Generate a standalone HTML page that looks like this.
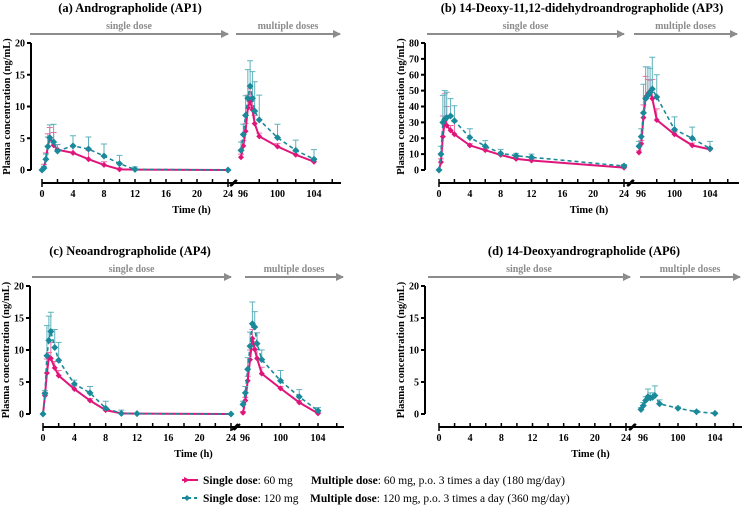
<!DOCTYPE html>
<html><head><meta charset="utf-8"><style>
body{margin:0;background:#fff}
svg, svg text{font-family:"Liberation Serif","Times New Roman",serif}
</style></head><body>
<svg id="fig" width="745" height="521" viewBox="0 0 745 521" xmlns="http://www.w3.org/2000/svg" font-family="Liberation Serif, serif">
<defs>
<marker id="ah" markerWidth="8" markerHeight="8" refX="7" refY="4" orient="auto" markerUnits="userSpaceOnUse"><path d="M0,0 L8,4 L0,8 z" fill="#8c8c8c"/></marker>
</defs>
<g>
 <g>
  <line x1="182" y1="480" x2="198" y2="480" stroke="#e0157a" stroke-width="2"/>
  <path d="M184,477 l6,3 l-6,3z" fill="#e0157a"/>
  <text x="203" y="484" font-size="11.5"><tspan font-weight="bold">Single dose</tspan>: 60 mg</text>
  <text x="311" y="484" font-size="11.5"><tspan font-weight="bold">Multiple dose</tspan>: 60 mg, p.o. 3 times a day (180 mg/day)</text>
 </g>
 <g>
  <line x1="182" y1="498" x2="198" y2="498" stroke="#1a8a9a" stroke-width="2" stroke-dasharray="3,3"/>
  <path d="M184,498 l3,-3 l3,3 l-3,3z" fill="#1a8a9a"/>
  <text x="203" y="502" font-size="11.5"><tspan font-weight="bold">Single dose</tspan>: 120 mg</text>
  <text x="310" y="502" font-size="11.5"><tspan font-weight="bold">Multiple dose</tspan>: 120 mg, p.o. 3 times a day (360 mg/day)</text>
 </g>
</g>
</svg>
<script>
// shared time points
const singleTimes=[0,0.25,0.5,0.75,1,1.5,2,4,6,8,10,12,24];
const multiTimes=[96,96.25,96.5,96.75,97,97.25,97.5,98,100,102,104];
const singleTickLabels=[0,4,8,12,16,20,24];
const multiTickLabels=[96,100,104];
// (a) AP1
const apA_pinkSingle=[0,0.4,1.7,3.7,5.0,3.9,3.2,2.7,1.7,0.8,0.1,0.05,0];
const apA_pinkSingleSD=[0,0.5,1,2,1.7,2,0.8,1,1.4,0.5,0.2,0.1,0];
const apA_tealSingle=[0,0.3,1.7,3.7,5.1,4.4,3.0,3.8,3.3,2.2,1.0,0.1,0];
const apA_tealSingleSD=[0,0.3,0.8,1.5,2.0,2.8,1.0,1.6,1.9,1.9,1.3,0.4,0];
const apA_pinkMulti=[2.0,3.8,6.1,9.8,10.8,9.5,7.3,5.3,3.7,2.4,1.3];
const apA_pinkMultiSD=[0.5,0.8,1.2,2,2,1.5,1.3,0.5,0.5,0.5,0.5];
const apA_tealMulti=[3.1,5.6,8.6,11.3,13.2,11.3,9.3,7.9,5.1,3.1,1.7];
const apA_tealMultiSD=[1.3,1.6,3.1,4.5,4,4.2,4.6,3.9,2.1,1.6,1.5];
// (b) AP3
const apB_pinkSingle=[0,5,21,31,28,25,22.5,15.5,12.5,9.5,7,6,1.5];
const apB_pinkSingleSD=[0,2,13,17,12,3,8,1,1,1,1,1,0.5];
const apB_tealSingle=[0,10,30,32,33,34,31,20.5,15,10.5,9,8,2.5];
const apB_tealSingleSD=[0,5,17,18,16,11,9.5,5.5,3.5,2.5,1.5,2,1];
const apB_pinkMulti=[11,16.5,33,46,48,49.5,45,31.5,22.5,15.5,13];
const apB_pinkMultiSD=[1,2,8,13,9,7,12,7,1.5,1.5,1];
const apB_tealMulti=[15,21,36,45,47,49,51,46,25.5,20,13.5];
const apB_tealMultiSD=[3,5,18,20,18,15,20,14,8,7,4.5];
// (c) AP4
const apC_pinkSingle=[0,2.9,6.4,8.8,8.7,7.2,6.0,3.9,2.1,0.6,0.1,0.05,0];
const apC_pinkSingleSD=[0,0.5,2.2,0.8,2.5,1,0.8,0.5,0.3,0.3,0.1,0,0];
const apC_tealSingle=[0,3.2,9.1,11.5,12.9,10.4,8.4,4.7,3.3,0.9,0.1,0.05,0];
const apC_tealSingleSD=[0,0.5,4.7,3.8,3,2.8,2.8,0.6,1,1.1,0.5,0,0];
const apC_pinkMulti=[0.2,2.1,5.2,8.5,11.8,10.1,8.7,6.3,4.0,1.8,0.1];
const apC_pinkMultiSD=[0.2,0.5,0.7,1.5,1.4,1.2,1.4,1,0.3,0.3,0.2];
const apC_tealMulti=[1.5,3.3,7.0,10.6,14.1,13.6,11.0,8.5,5.2,2.7,0.5];
const apC_tealMultiSD=[0.5,1,1.8,2.2,3.4,2.4,1.7,1.5,1.6,1.1,0.5];
// (d) AP6
const apD_tealMulti=[0.7,1.3,2.1,2.7,2.5,2.6,2.9,1.6,0.9,0.35,0.1];
const apD_tealMultiSD=[0.3,0.5,0.6,1.2,0.8,0.7,1.5,0.6,0.2,0.2,0.1];

const NS='http://www.w3.org/2000/svg';
const fig=document.getElementById('fig');
function mk(tag,attrs,parent){const e=document.createElementNS(NS,tag);for(const k in attrs)e.setAttribute(k,attrs[k]);(parent||fig).appendChild(e);return e;}
const PINK='#e0157a',PINKL='#ee6fa8',TEAL='#1a8a9a',TEALL='#5fb2bd';

const panels=[
 {name:'panel-a',title:'(a) Andrographolide (AP1)',tx:130,ymax:20,ystep:5,yAx:31,yTop:43,yBot:170,axY:183,s0:42,s24:228,m96:241,m104:314,mEnd:341,arrS:[30,228],arrM:[236,340],
  series:[[apA_pinkSingle,apA_pinkSingleSD,apA_pinkMulti,apA_pinkMultiSD,'pink'],[apA_tealSingle,apA_tealSingleSD,apA_tealMulti,apA_tealMultiSD,'teal']]},
 {name:'panel-b',title:'(b) 14-Deoxy-11,12-didehydroandrographolide (AP3)',tx:582,ymax:80,ystep:10,yAx:425,yTop:43,yBot:170,axY:183,s0:439,s24:624,m96:639,m104:710,mEnd:739,arrS:[427,624],arrM:[634,737],
  series:[[apB_pinkSingle,apB_pinkSingleSD,apB_pinkMulti,apB_pinkMultiSD,'pink'],[apB_tealSingle,apB_tealSingleSD,apB_tealMulti,apB_tealMultiSD,'teal']]},
 {name:'panel-c',title:'(c) Neoandrographolide (AP4)',tx:130,ymax:20,ystep:5,yAx:30,yTop:286,yBot:414,axY:427,s0:43,s24:231,m96:243,m104:318,mEnd:344,arrS:[32,231],arrM:[245,343],
  series:[[apC_pinkSingle,apC_pinkSingleSD,apC_pinkMulti,apC_pinkMultiSD,'pink'],[apC_tealSingle,apC_tealSingleSD,apC_tealMulti,apC_tealMultiSD,'teal']]},
 {name:'panel-d',title:'(d) 14-Deoxyandrographolide (AP6)',tx:584,ymax:20,ystep:5,yAx:425,yTop:286,yBot:414,axY:427,s0:439,s24:626,m96:641,m104:715,mEnd:742,arrS:[428,630],arrM:[640,740],
  series:[[null,null,apD_tealMulti,apD_tealMultiSD,'teal']]}
];

panels.forEach(p=>{
 const g=mk('g',{});
 
 
 const ys=v=>p.yBot-(v/p.ymax)*(p.yBot-p.yTop);
 const xs=t=>t<=24? p.s0+t*(p.s24-p.s0)/24 : p.m96+(t-96)*(p.m104-p.m96)/8;
 const t=mk('text',{x:p.tx,y:p.yTop-31,'text-anchor':'middle','font-size':12.5,'font-weight':'bold'},g);
 t.textContent=p.title;
 
 
 const ay=p.yTop-9;
 [[p.arrS,'single dose','single-dose-arrow'],[p.arrM,'multiple doses','multiple-doses-arrow']].forEach(a=>{
  const l=mk('line',{x1:a[0][0],y1:ay,x2:a[0][1],y2:ay,stroke:'#8c8c8c','stroke-width':2,'marker-end':'url(#ah)'},g);
  
  
  const tt=mk('text',{x:(a[0][0]+a[0][1])/2,y:ay-5,'text-anchor':'middle','font-size':10,'font-weight':'bold',fill:'#8c8c8c'},g);
  tt.textContent=a[1];
  
  
 });
 const ya=mk('g',{},g);
 
 
 mk('line',{x1:p.yAx,y1:p.yTop,x2:p.yAx,y2:p.yBot,stroke:'#000','stroke-width':2},ya);
 for(let v=0;v<=p.ymax;v+=p.ystep){
  mk('line',{x1:p.yAx-4,y1:ys(v),x2:p.yAx,y2:ys(v),stroke:'#000','stroke-width':2},ya);
  const tl=mk('text',{x:p.yAx-6,y:ys(v)+3.5,'text-anchor':'end','font-size':10,'font-weight':'bold'},ya);
  tl.textContent=v;
 }
 const yt=mk('text',{x:0,y:0,'text-anchor':'middle','font-size':10.5,'font-weight':'bold',transform:`translate(${p.yAx-21},${(p.yTop+p.yBot)/2}) rotate(-90)`},ya);
 yt.textContent='Plasma concentration (ng/mL)';
 
 
 const xa=mk('g',{},g);
 
 
 mk('line',{x1:p.s0,y1:p.axY,x2:p.s24+6,y2:p.axY,stroke:'#000','stroke-width':2},xa);
 mk('line',{x1:p.m96-8,y1:p.axY,x2:p.mEnd,y2:p.axY,stroke:'#000','stroke-width':2},xa);
 mk('line',{x1:p.s24+3,y1:p.axY+3,x2:p.s24+9,y2:p.axY-3,stroke:'#000','stroke-width':2},xa);
 mk('line',{x1:p.m96-11,y1:p.axY+3,x2:p.m96-5,y2:p.axY-3,stroke:'#000','stroke-width':2},xa);
 for(let h=0;h<=24;h+=2){const x=xs(h);mk('line',{x1:x,y1:p.axY-4,x2:x,y2:(h===0||h===24)?p.axY+4:p.axY,stroke:'#000','stroke-width':1.5},xa);}
 for(let h=98;h<=106;h+=2){const x=xs(h);mk('line',{x1:x,y1:p.axY-4,x2:x,y2:p.axY,stroke:'#000','stroke-width':1.5},xa);}
 singleTickLabels.forEach(h=>{const tl=mk('text',{x:xs(h),y:p.axY+14,'text-anchor':'middle','font-size':10,'font-weight':'bold'},xa);tl.textContent=h;});
 multiTickLabels.forEach(h=>{const tl=mk('text',{x:xs(h)+(h===96?2:0),y:p.axY+14,'text-anchor':'middle','font-size':10,'font-weight':'bold'},xa);tl.textContent=h;});
 const xt=mk('text',{x:(p.s0+p.mEnd)/2,y:p.axY+30,'text-anchor':'middle','font-size':10.5,'font-weight':'bold'},xa);
 xt.textContent='Time (h)';
 
 
 p.series.forEach(s=>{
  const isP=s[4]==='pink', col=isP?PINK:TEAL, lc=isP?PINKL:TEALL;
  const sg=mk('g',{},g);
  
  
  [[singleTimes,s[0],s[1]],[multiTimes,s[2],s[3]]].forEach(seg=>{
   if(!seg[1])return;
   seg[0].forEach((tm,i)=>{
    const x=xs(tm),y=ys(seg[1][i]),y2=ys(seg[1][i]+seg[2][i]);
    if(seg[2][i]>0){
     const eb=mk('path',{d:`M${x},${y}V${y2}M${x-3},${y2}H${x+3}`,stroke:lc,'stroke-width':1,fill:'none'},sg);
     
     
    }
   });
   const pts=seg[0].map((tm,i)=>xs(tm)+','+ys(seg[1][i])).join(' ');
   const pl=mk('polyline',{points:pts,fill:'none',stroke:col,'stroke-width':isP?2:1.6,'stroke-dasharray':isP?'none':'4,3'},sg);
   
   
   seg[0].forEach((tm,i)=>{
    const x=xs(tm),y=ys(seg[1][i]);
    const m=isP?mk('path',{d:`M${x},${y-3}l3,3l-3,3l-3,-3z`,fill:col},sg):mk('path',{d:`M${x},${y-3.5}l3.5,3.5l-3.5,3.5l-3.5,-3.5z`,fill:col},sg);
    
    
   });
  });
 });
});
</script>
</body></html>
